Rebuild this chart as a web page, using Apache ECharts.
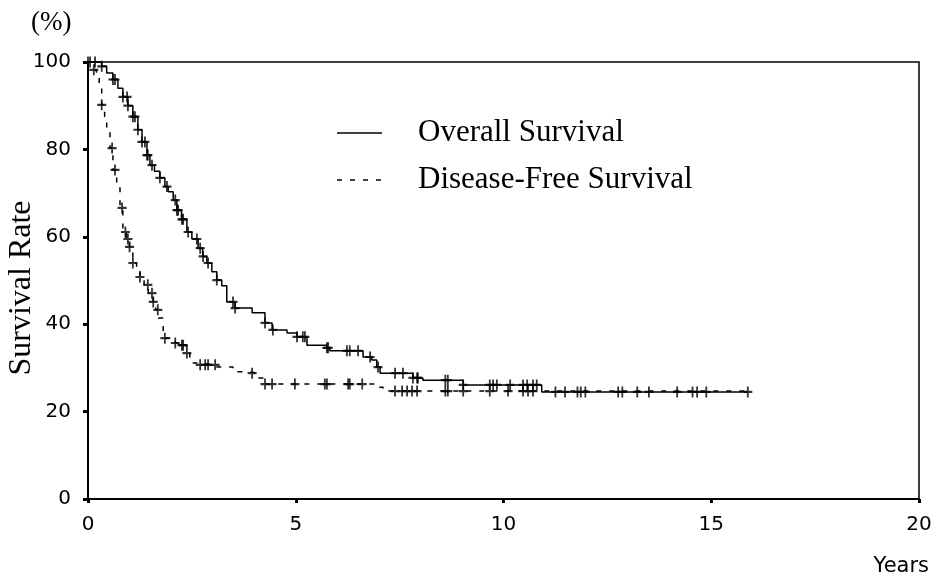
<!DOCTYPE html>
<html>
<head>
<meta charset="utf-8">
<script src="https://cdn.jsdelivr.net/npm/echarts@6/dist/echarts.min.js"></script>
<style>
  html, body { margin: 0; padding: 0; background: #fff; }
  #chart { width: 935px; height: 579px; }
</style>
</head>
<body>
<div id="chart"></div>
<script>
// Kaplan-Meier steps (time in years, survival %)
var osTime = [0, 0.33, 0.45, 0.6, 0.72, 0.84, 0.96, 1.08, 1.2, 1.3, 1.42, 1.49, 1.6, 1.73, 1.85, 1.93, 2.05, 2.14, 2.25, 2.38, 2.5, 2.65, 2.76, 2.86, 2.98, 3.1, 3.22, 3.34, 3.54, 3.95, 4.26, 4.43, 4.79, 5.03, 5.27, 5.75, 5.82, 6.62, 6.83, 6.95, 7.03, 7.82, 8.06, 9.03, 10.92, 15.88];
var osSurv = [100, 99, 97.5, 96, 94, 92, 90, 87.5, 84.5, 81.7, 78.7, 76.4, 75, 73.5, 71.5, 70.3, 68.4, 66.1, 64, 61.1, 59.5, 57.4, 55.5, 54, 52, 50.1, 48.8, 45.1, 43.7, 42.6, 40.3, 38.7, 38, 37.1, 35.2, 34.6, 33.9, 32.5, 31.8, 30.2, 28.8, 27.7, 27.2, 26.1, 24.5, 24.5];

var dfsTime = [0, 0.1, 0.14, 0.2, 0.27, 0.33, 0.4, 0.45, 0.53, 0.6, 0.69, 0.77, 0.84, 0.92, 1.0, 1.08, 1.17, 1.25, 1.35, 1.45, 1.57, 1.63, 1.69, 1.81, 1.85, 2.1, 2.26, 2.38, 2.45, 2.53, 2.65, 3.1, 3.49, 3.9, 4.07, 4.26, 7.0, 7.1, 15.88];
var dfsSurv = [100, 99, 98.2, 97.7, 94, 90.2, 87.5, 84.9, 80.3, 75.3, 71.2, 66.6, 61.1, 59.5, 57.7, 54, 52.5, 50.8, 49, 47.1, 45.1, 43.3, 41.4, 37.5, 36.8, 35.7, 35.2, 33.4, 32.5, 31.1, 30.7, 30.2, 29.1, 28.8, 27.7, 26.3, 25.6, 24.7, 24.7];

// censored observations (+ marks)
var osCensor = [0, 0.05, 0.17, 0.33, 0.6, 0.65, 0.84, 0.94, 0.96, 1.08, 1.13, 1.2, 1.3, 1.37, 1.42, 1.44, 1.54, 1.73, 1.9, 2.1, 2.14, 2.17, 2.26, 2.29, 2.41, 2.62, 2.7, 2.77, 2.89, 3.1, 3.49, 3.54, 4.26, 4.45, 5.03, 5.17, 5.22, 5.75, 5.78, 6.23, 6.3, 6.5, 6.79, 6.98, 7.39, 7.58, 7.82, 7.92, 7.94, 8.6, 8.66, 9.03, 9.67, 9.75, 9.84, 10.16, 10.47, 10.57, 10.71, 10.8, 11.25, 11.48, 11.78, 11.86, 11.97, 12.76, 12.86, 13.22, 13.5, 14.18, 14.55, 14.66, 14.88, 15.88];
var dfsCensor = [0.14, 0.33, 0.58, 0.65, 0.82, 0.9, 0.96, 1.0, 1.08, 1.25, 1.44, 1.54, 1.57, 1.68, 1.85, 2.1, 2.26, 2.29, 2.38, 2.7, 2.82, 2.89, 3.06, 3.95, 4.26, 4.43, 4.98, 5.7, 5.75, 6.26, 6.3, 6.6, 7.39, 7.56, 7.68, 7.8, 7.92, 8.6, 8.66, 9.03, 9.67, 10.11, 10.47, 10.59, 10.71];

var xTicks = [0, 5, 10, 15, 20];
var yTicks = [0, 20, 40, 60, 80, 100];
var seriesNames = ['Overall Survival', 'Disease-Free Survival'];

function pairs(t, s) {
    return t.map(function (v, i) { return [v, s[i]]; });
}
// value of the step curve at time x
function stepAt(t, s, x) {
    var v = s[0];
    for (var i = 0; i < t.length; i++) {
        if (t[i] <= x + 1e-9) v = s[i];
    }
    return v;
}
function marks(c, t, s) {
    return c.map(function (x) { return [x, stepAt(t, s, x)]; });
}

var plus = 'path://M4,0H6V4H10V6H6V10H4V6H0V4H4Z';
var dash = [5, 8];

var chart = echarts.init(document.getElementById('chart'));

var option = {
    animation: false,
    backgroundColor: '#fff',
    grid: {
        left: 88,
        right: 16,
        top: 62,
        bottom: 80,
        show: true,
        borderColor: '#000',
        borderWidth: 1.5
    },
    xAxis: {
        type: 'value',
        min: xTicks[0],
        max: xTicks[xTicks.length - 1],
        interval: 5,
        axisLine: { lineStyle: { color: '#000', width: 2 } },
        axisTick: { length: 4, lineStyle: { color: '#000', width: 3 } },
        axisLabel: { color: '#000', fontFamily: 'DejaVu Sans', fontSize: 20, margin: 16 },
        splitLine: { show: false }
    },
    yAxis: {
        type: 'value',
        min: yTicks[0],
        max: yTicks[yTicks.length - 1],
        interval: 20,
        axisLine: { lineStyle: { color: '#000', width: 2 } },
        axisTick: { length: 5, lineStyle: { color: '#000', width: 3 } },
        axisLabel: { color: '#000', fontFamily: 'DejaVu Sans', fontSize: 20, margin: 17 },
        splitLine: { show: false }
    },
    graphic: [
        {
            type: 'text', left: 31, top: 9,
            style: { text: '(%)', font: '27px "Liberation Serif"', fill: '#000' }
        },
        {
            type: 'text', x: 22, y: 288, rotation: Math.PI / 2,
            style: {
                text: 'Survival Rate', font: '32px "Liberation Serif"', fill: '#000',
                align: 'center', verticalAlign: 'middle'
            }
        },
        {
            type: 'text', right: 6, top: 556,
            style: { text: 'Years', font: '21px "DejaVu Sans"', fill: '#000' }
        },
        // legend
        {
            type: 'line', shape: { x1: 337, y1: 133, x2: 382, y2: 133 },
            style: { stroke: '#000', lineWidth: 1.5 }
        },
        {
            type: 'text', x: 418, y: 133,
            style: { text: seriesNames[0], font: '31px "Liberation Serif"', fill: '#000', verticalAlign: 'middle' }
        },
        {
            type: 'line', shape: { x1: 337, y1: 180, x2: 382, y2: 180 },
            style: { stroke: '#000', lineWidth: 1.5, lineDash: dash }
        },
        {
            type: 'text', x: 418, y: 180,
            style: { text: seriesNames[1], font: '31px "Liberation Serif"', fill: '#000', verticalAlign: 'middle' }
        }
    ],
    series: [
        {
            name: seriesNames[0],
            type: 'line',
            step: 'end',
            symbol: 'none',
            data: pairs(osTime, osSurv),
            lineStyle: { color: '#000', width: 1.5 }
        },
        {
            name: seriesNames[1],
            type: 'line',
            step: 'end',
            symbol: 'none',
            data: pairs(dfsTime, dfsSurv),
            lineStyle: { color: '#000', width: 1.5, type: dash }
        },
        {
            name: 'os censored',
            type: 'scatter',
            symbol: plus,
            symbolSize: [9, 11],
            data: marks(osCensor, osTime, osSurv),
            itemStyle: { color: '#000' }
        },
        {
            name: 'dfs censored',
            type: 'scatter',
            symbol: plus,
            symbolSize: [9, 11],
            data: marks(dfsCensor, dfsTime, dfsSurv),
            itemStyle: { color: '#000' }
        }
    ]
};

chart.setOption(option);
</script>
</body>
</html>
